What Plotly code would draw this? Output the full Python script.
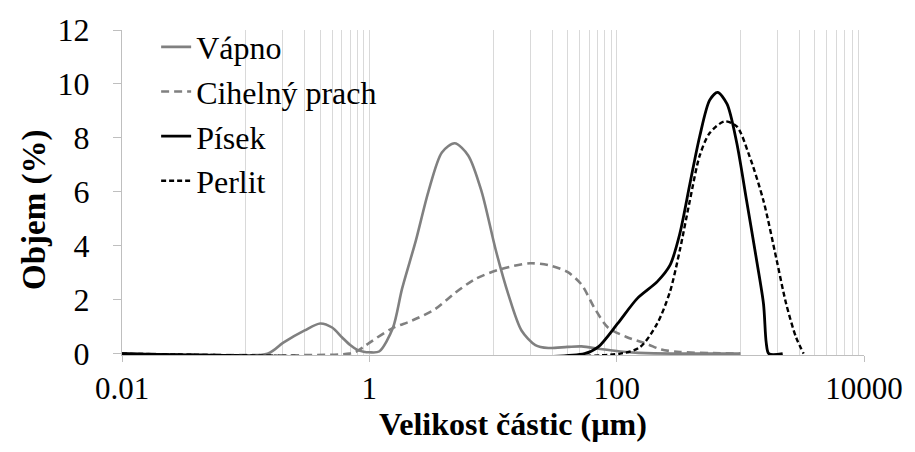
import plotly.graph_objects as go

# ---- data (particle size in µm, volume in %) ----
vapno_x = [0.01, 0.15, 0.2, 0.3, 0.4, 0.5, 0.6, 0.7, 0.8, 0.9, 1.0, 1.2, 1.55, 1.84, 2.38, 3.0,
           3.86, 4.9, 6.3, 8.1, 10.5, 13.3, 17, 22, 28, 40, 52, 74, 107, 150, 200, 1000]
vapno_y = [0, 0, 0.4, 0.86, 1.12, 0.97, 0.61, 0.32, 0.14, 0.07, 0.05, 0.08, 0.95, 2.41, 4.2, 6.0,
           7.46, 7.8, 7.35, 6.0, 3.86, 2.2, 0.86, 0.32, 0.21, 0.25, 0.27, 0.17, 0.08, 0.03, 0.01, 0]

prach_x = [0.01, 0.69, 0.8, 0.9, 1.0, 1.53, 2.2, 3.4, 4.9, 7.2, 11.7, 20, 28, 40, 52, 66, 85,
           120, 178, 230, 325, 600, 1000]
prach_y = [0, 0, 0.1, 0.25, 0.4, 0.94, 1.22, 1.65, 2.24, 2.77, 3.14, 3.35, 3.28, 3.03, 2.56, 1.7, 0.97,
           0.62, 0.35, 0.15, 0.06, 0.02, 0]

pisek_x = [0.01, 55, 71, 102, 147, 213, 270, 325, 390, 470, 565, 655, 780, 935, 1125, 1350,
           1540, 1620, 1700, 2200]
pisek_y = [0, 0, 0.25, 1.12, 2.05, 2.67, 3.28, 4.47, 6.27, 8.07, 9.4, 9.69, 9.26, 7.82, 5.66, 3.5,
           1.84, 0.4, 0, 0]

perlit_x = [0.01, 107, 155, 213, 270, 325, 390, 470, 565, 745, 935, 1180, 1540, 1960, 2350, 2820, 3250]
perlit_y = [0, 0, 0.25, 1.12, 2.3, 3.86, 5.66, 7.35, 8.18, 8.61, 8.43, 7.35, 5.66, 3.5, 1.84, 0.61, 0]

names = ["Vápno", "Cihelný prach", "Písek", "Perlit"]

x_major = [0.01, 1, 100, 10000]
x_major_text = ["0.01", "1", "100", "10000"]
x_minor = [k * 0.1 for k in range(1, 10)] + [k * 10 for k in range(1, 10)] + [k * 1000 for k in range(1, 10)]

FONT = "Liberation Serif, Times New Roman, serif"
GREY = "#808080"

fig = go.Figure()
series = [
    (vapno_x, vapno_y, names[0], dict(color=GREY, width=2.6, dash="solid")),
    (prach_x, prach_y, names[1], dict(color=GREY, width=2.6, dash="8px,5px")),
    (pisek_x, pisek_y, names[2], dict(color="black", width=2.8, dash="solid")),
    (perlit_x, perlit_y, names[3], dict(color="black", width=2.4, dash="5px,3px")),
]
for xs, ys, nm, ln in series:
    fig.add_trace(go.Scatter(x=xs, y=ys, name=nm, mode="lines",
                             line=dict(shape="spline", smoothing=0.8, **ln)))

fig.update_layout(
    width=915, height=452,
    margin=dict(l=122, r=47, t=21, b=97),
    plot_bgcolor="white", paper_bgcolor="white",
    font=dict(family=FONT, size=32, color="black"),
    showlegend=True,
    legend=dict(x=0.046, y=1.032, xanchor="left", yanchor="top",
                bgcolor="rgba(0,0,0,0)", font=dict(size=32, family=FONT),
                tracegroupgap=0, itemwidth=30),
    xaxis=dict(type="log", range=[-2, 4], tickvals=x_major, ticktext=x_major_text,
               ticks="outside", ticklen=6, tickcolor="#bfbfbf",
               showline=True, linecolor="#bfbfbf", linewidth=1,
               showgrid=True, gridcolor="#d9d9d9", gridwidth=1, zeroline=False,
               minor=dict(tickvals=x_minor, showgrid=True, gridcolor="#d9d9d9", gridwidth=1, ticks=""),
               tickfont=dict(size=31, family=FONT), ticklabelstandoff=0),
    yaxis=dict(range=[-0.05, 12], tickvals=[0, 2, 4, 6, 8, 10, 12], ticks="outside", ticklen=8,
               tickcolor="#bfbfbf",
               showline=True, linecolor="#bfbfbf", linewidth=1, showgrid=False, zeroline=False,
               tickfont=dict(size=32, family=FONT), ticklabelstandoff=17),
    annotations=[
        dict(text="<b>Velikost částic (µm)</b>", xref="paper", yref="paper",
             x=0.527, y=-0.212, xanchor="center", yanchor="middle", showarrow=False,
             font=dict(size=32, family=FONT)),
        dict(text="<b>Objem (%)</b>", xref="paper", yref="paper", textangle=-90,
             x=-0.117, y=0.447, xanchor="center", yanchor="middle", showarrow=False,
             font=dict(size=33, family=FONT)),
    ],
)

fig.write_html("out.html")
